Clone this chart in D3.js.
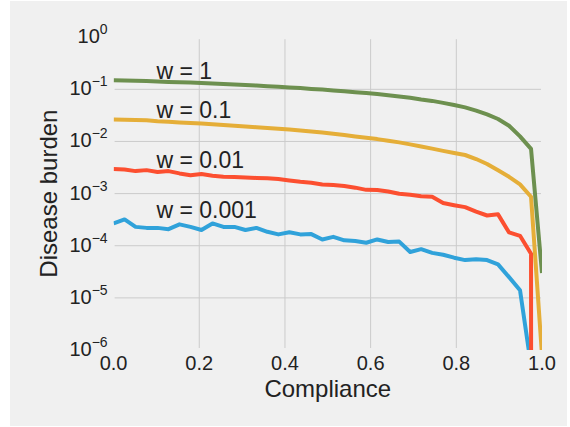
<!DOCTYPE html>
<html>
<head>
<meta charset="utf-8">
<script src="https://cdn.jsdelivr.net/npm/d3@7"></script>
<style>
  body { margin: 0; background: #fff; }
  text { font-family: "Liberation Sans", Arial, sans-serif; fill: #222; }
</style>
</head>
<body>
<svg id="chart" width="570" height="427"></svg>
<script>
// compliance values (40 points from 0 to 1)
const compliance = [0, 0.0256, 0.0513, 0.0769, 0.1026, 0.1282, 0.1538, 0.1795, 0.2051, 0.2308,
  0.2564, 0.2821, 0.3077, 0.3333, 0.359, 0.3846, 0.4103, 0.4359, 0.4615, 0.4872,
  0.5128, 0.5385, 0.5641, 0.5897, 0.6154, 0.641, 0.6667, 0.6923, 0.7179, 0.7436,
  0.7692, 0.7949, 0.8205, 0.8462, 0.8718, 0.8974, 0.9231, 0.9487, 0.9744, 1];

const burdenW0001 = [2.68e-4, 3.2e-4, 2.3e-4, 2.2e-4, 2.2e-4, 2.08e-4, 2.57e-4, 2.3e-4, 2.0e-4, 2.68e-4,
  2.3e-4, 2.3e-4, 2.0e-4, 2.2e-4, 1.85e-4, 1.65e-4, 1.82e-4, 1.65e-4, 1.67e-4, 1.32e-4,
  1.48e-4, 1.27e-4, 1.23e-4, 1.14e-4, 1.32e-4, 1.18e-4, 1.2e-4, 7.6e-5, 8.6e-5, 7.3e-5,
  6.7e-5, 5.9e-5, 5.3e-5, 5.5e-5, 5.3e-5, 4.4e-5, 2.5e-5, 1.4e-5, 5e-7, 0];

const burdenW001 = [2.95e-3, 2.9e-3, 2.7e-3, 2.82e-3, 2.6e-3, 2.7e-3, 2.44e-3, 2.25e-3, 2.37e-3, 2.2e-3,
  2.1e-3, 2.08e-3, 2.04e-3, 2.0e-3, 1.97e-3, 1.9e-3, 1.78e-3, 1.68e-3, 1.62e-3, 1.5e-3,
  1.46e-3, 1.4e-3, 1.3e-3, 1.18e-3, 1.17e-3, 1.1e-3, 9.9e-4, 9.5e-4, 8.9e-4, 8.7e-4,
  6.6e-4, 6.0e-4, 5.5e-4, 4.5e-4, 3.8e-4, 4.0e-4, 1.8e-4, 1.55e-4, 7e-5, 0];

const burdenW01 = [0.0265, 0.0262, 0.0258, 0.0255, 0.0245, 0.0238, 0.0232, 0.0226, 0.022, 0.0214,
  0.0207, 0.02, 0.0194, 0.0188, 0.0181, 0.0175, 0.0169, 0.0162, 0.0155, 0.0148,
  0.014, 0.0133, 0.0125, 0.0118, 0.0111, 0.0103, 0.0096, 0.0088, 0.008, 0.0073,
  0.0066, 0.006, 0.0055, 0.0046, 0.0037, 0.0028, 0.0021, 0.0015, 0.00087, 8e-7];

const burdenW1 = [0.150, 0.148, 0.146, 0.144, 0.142, 0.139, 0.137, 0.135, 0.132, 0.129,
  0.126, 0.124, 0.121, 0.118, 0.115, 0.112, 0.109, 0.106, 0.102, 0.099,
  0.095, 0.092, 0.088, 0.085, 0.081, 0.077, 0.073, 0.069, 0.064, 0.060,
  0.055, 0.050, 0.045, 0.039, 0.033, 0.027, 0.020, 0.0125, 0.0072, 3e-5];

const seriesLabels = ['w = 0.001', 'w = 0.01', 'w = 0.1', 'w = 1'];
const xTicks = [0, 0.2, 0.4, 0.6, 0.8, 1.0];
const yExponents = [0, -1, -2, -3, -4, -5, -6];

const series = [burdenW0001, burdenW001, burdenW01, burdenW1];
const colors = ['#30a2da', '#fc4f30', '#e5ae38', '#6d904f'];

const margin = {left: 113.6, top: 37.2, right: 28, bottom: 77};
const width = 570, height = 427;

const svg = d3.select('#chart');

// figure background
svg.append('rect')
  .attr('x', 10).attr('y', 1)
  .attr('width', 557).attr('height', 425)
  .style('fill', '#f0f0f0');

const x = d3.scaleLinear().domain([0, 1]).range([margin.left, width - margin.right]);
const y = d3.scaleLog().domain([1e-6, 1]).range([height - margin.bottom, margin.top]);

// grid
const grid = svg.append('g').attr('class', 'grid');
grid.selectAll('.vgrid')
  .data(xTicks.slice(1, -1))
  .enter()
  .append('line')
  .attr('x1', d => x(d)).attr('x2', d => x(d))
  .attr('y1', y(1) + 2).attr('y2', y(1e-6) - 2)
  .style('stroke', '#cbcbcb').style('stroke-width', 1);
grid.selectAll('.hgrid')
  .data(yExponents.slice(1, -1))
  .enter()
  .append('line')
  .attr('x1', x(0) + 1).attr('x2', x(1) - 1)
  .attr('y1', d => y(Math.pow(10, d))).attr('y2', d => y(Math.pow(10, d)))
  .style('stroke', '#cbcbcb').style('stroke-width', 1);

// clip to axes
svg.append('defs').append('clipPath').attr('id', 'plotClip')
  .append('rect')
  .attr('x', x(0)).attr('y', y(1))
  .attr('width', x(1) - x(0)).attr('height', y(1e-6) - y(1));

// zeros on a log axis are clipped to a tiny value, like matplotlib does
const line = d3.line()
  .x((d, i) => x(compliance[i]))
  .y(d => y(d > 0 ? d : 1e-300));

svg.append('g')
  .attr('clip-path', 'url(#plotClip)')
  .selectAll('.series')
  .data(series)
  .enter()
  .append('path')
  .attr('class', 'series')
  .attr('d', d => line(d))
  .style('fill', 'none')
  .style('stroke', (d, i) => colors[i])
  .style('stroke-width', 4)
  .style('stroke-linejoin', 'round');

// series labels
svg.selectAll('.slabel')
  .data(series)
  .enter()
  .append('text')
  .attr('class', 'slabel')
  .attr('x', x(0.1))
  .attr('y', d => y(d3.max(d)) - 1)
  .style('font-size', '23px')
  .text((d, i) => seriesLabels[i]);

// x tick labels
svg.selectAll('.xtick')
  .data(xTicks)
  .enter()
  .append('text')
  .attr('class', 'xtick')
  .attr('x', d => x(d))
  .attr('y', y(1e-6) + 20)
  .attr('text-anchor', 'middle')
  .style('font-size', '20px')
  .text(d => d3.format('.1f')(d));

// y tick labels as 10^k
const yt = svg.selectAll('.ytick')
  .data(yExponents)
  .enter()
  .append('text')
  .attr('class', 'ytick')
  .attr('x', x(0) - 6)
  .attr('y', d => y(Math.pow(10, d)) + 6)
  .attr('text-anchor', 'end')
  .style('font-size', '20px');
yt.append('tspan').text('10');
yt.append('tspan')
  .attr('dy', -9)
  .style('font-size', '14px')
  .text(d => d === 0 ? '0' : '\u2212' + Math.abs(d));

// axis titles
svg.append('text')
  .attr('x', (x(0) + x(1)) / 2)
  .attr('y', 397)
  .attr('text-anchor', 'middle')
  .style('font-size', '24px')
  .text('Compliance');

svg.append('text')
  .attr('transform', `translate(57, ${(y(1) + y(1e-6)) / 2}) rotate(-90)`)
  .attr('text-anchor', 'middle')
  .style('font-size', '24px')
  .text('Disease burden');
</script>
</body>
</html>
